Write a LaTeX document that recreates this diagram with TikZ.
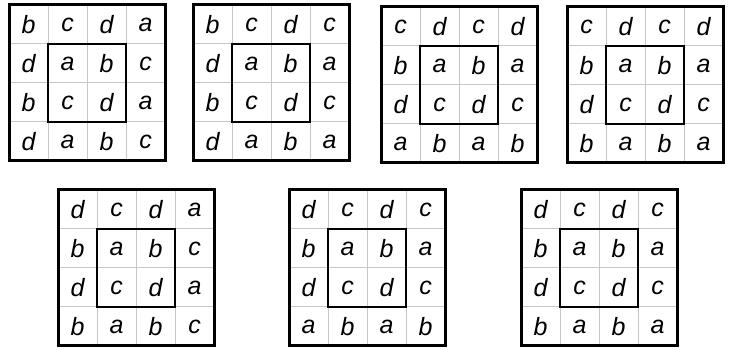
\documentclass[tikz,border=0pt]{standalone}
\usepackage{fontspec}
\setmainfont{Liberation Sans}
\usepackage{tikz}
\usetikzlibrary{positioning}

% one 4x4 letter square: #1 name, #2 #3 lower left corner, #4 rows from the top
\newcommand{\lettergrid}[4]{%
  \begin{scope}[shift={(#2,#3)}]
    \draw[cellline] (0,0) grid[step=39pt] (156,156);
    \foreach \row [count=\r] in {#4} {
      \foreach \l [count=\c] in \row {
        \node[letter] (#1-\r-\c) at ({39*\c-19.5},{175.5-39*\r}) {\l};
      }
    }
    \draw[innerbox] (39,39) rectangle (117,117);
    \draw[outerbox] (0,0) rectangle (156,156);
  \end{scope}}

\begin{document}
\begin{tikzpicture}[x=1pt, y=1pt,
    letter/.style={inner sep=0pt, font=\fontsize{25}{30}\selectfont\itshape},
    cellline/.style={draw=black!22, line width=1pt},
    innerbox/.style={draw=black, line width=2.4pt},
    outerbox/.style={draw=black, line width=3pt}
]
\useasboundingbox (0,0) rectangle (730,350);
% top row
\lettergrid{ga}{9}{189}{{b,c,d,a},{d,a,b,c},{b,c,d,a},{d,a,b,c}}
\lettergrid{gb}{193}{189}{{b,c,d,c},{d,a,b,a},{b,c,d,c},{d,a,b,a}}
\lettergrid{gc}{381}{187}{{c,d,c,d},{b,a,b,a},{d,c,d,c},{a,b,a,b}}
\lettergrid{gd}{567}{187}{{c,d,c,d},{b,a,b,a},{d,c,d,c},{b,a,b,a}}
% bottom row
\lettergrid{ge}{58}{4}{{d,c,d,a},{b,a,b,c},{d,c,d,a},{b,a,b,c}}
\lettergrid{gf}{289}{4}{{d,c,d,c},{b,a,b,a},{d,c,d,c},{a,b,a,b}}
\lettergrid{gg}{521}{4}{{d,c,d,c},{b,a,b,a},{d,c,d,c},{b,a,b,a}}
\end{tikzpicture}
\end{document}
